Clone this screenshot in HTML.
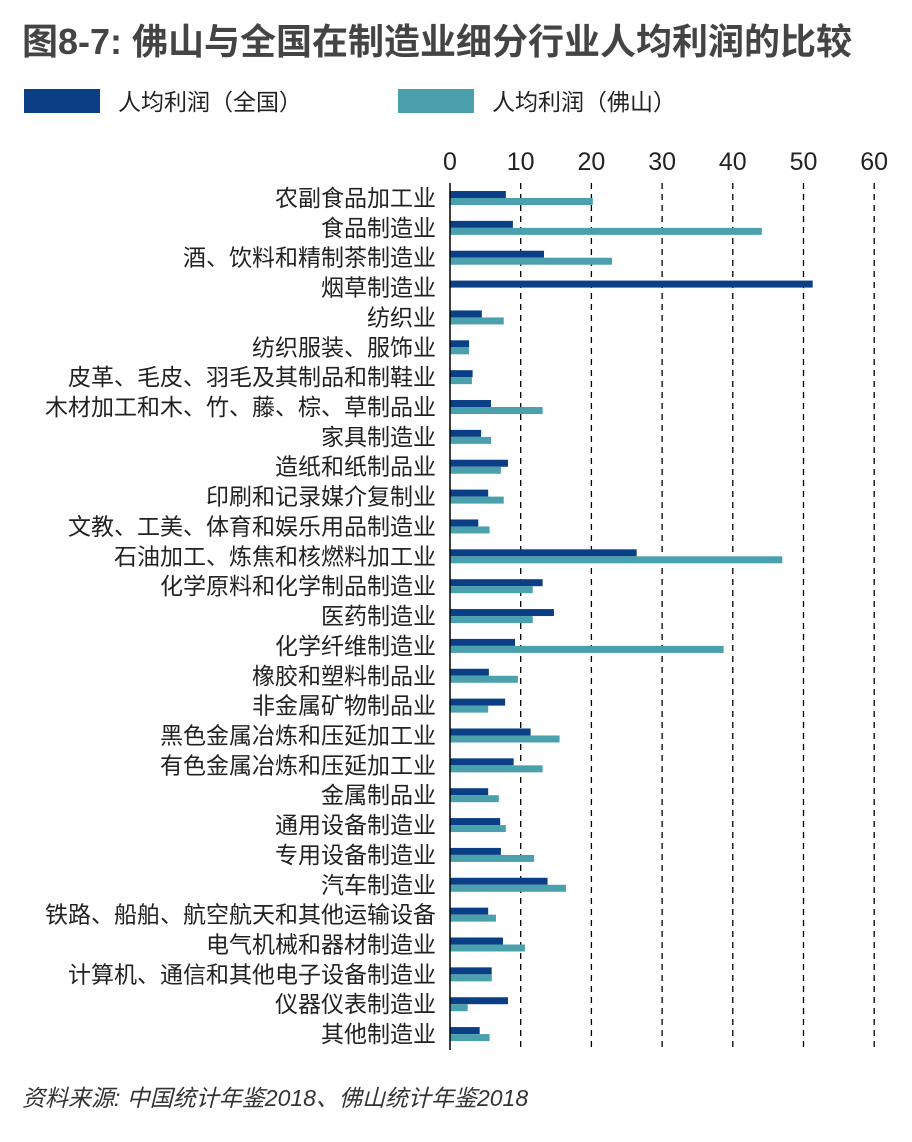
<!DOCTYPE html>
<html><head><meta charset="utf-8"><style>
body{margin:0;background:#fff;}
svg text{font-family:"Liberation Sans","Noto Sans CJK SC",sans-serif;}
</style></head><body>
<svg id="chart" width="912" height="1137" xmlns="http://www.w3.org/2000/svg">
<text x="22" y="54" font-size="36" font-weight="bold" fill="#444">图8-7: 佛山与全国在制造业细分行业人均利润的比较</text>
<rect x="24" y="89" width="76" height="24" fill="#0a3f86"/>
<text x="118" y="110" font-size="23" fill="#222">人均利润（全国）</text>
<rect x="398" y="89" width="76" height="24" fill="#4aa0ad"/>
<text x="492" y="110" font-size="23" fill="#222">人均利润（佛山）</text>
<g id="grid"></g><g id="bars"></g><g id="labels"></g>
<line x1="450" y1="183" x2="450" y2="1050" stroke="#000" stroke-width="1.5"/>
<text x="22" y="1106" font-size="23" font-style="italic" fill="#333">资料来源: 中国统计年鉴2018、佛山统计年鉴2018</text>
</svg>
<script>
const categories=["农副食品加工业","食品制造业","酒、饮料和精制茶制造业","烟草制造业","纺织业","纺织服装、服饰业","皮革、毛皮、羽毛及其制品和制鞋业","木材加工和木、竹、藤、棕、草制品业","家具制造业","造纸和纸制品业","印刷和记录媒介复制业","文教、工美、体育和娱乐用品制造业","石油加工、炼焦和核燃料加工业","化学原料和化学制品制造业","医药制造业","化学纤维制造业","橡胶和塑料制品业","非金属矿物制品业","黑色金属冶炼和压延加工业","有色金属冶炼和压延加工业","金属制品业","通用设备制造业","专用设备制造业","汽车制造业","铁路、船舶、航空航天和其他运输设备","电气机械和器材制造业","计算机、通信和其他电子设备制造业","仪器仪表制造业","其他制造业"];
const national=[7.9,8.9,13.3,51.3,4.5,2.7,3.2,5.8,4.4,8.2,5.4,4.0,26.4,13.1,14.7,9.2,5.5,7.8,11.4,9.0,5.4,7.1,7.2,13.8,5.4,7.5,5.9,8.2,4.2];
const foshan=[20.2,44.1,22.9,0,7.6,2.7,3.1,13.1,5.8,7.2,7.6,5.6,47.0,11.7,11.7,38.7,9.6,5.4,15.5,13.1,6.9,7.9,11.9,16.4,6.5,10.6,5.9,2.5,5.6];
const ticks=[0,10,20,30,40,50,60];
const NS="http://www.w3.org/2000/svg";
const x=v=>450+v*7.07;
const y=i=>198+i*29.86;
function mk(t,a,p){const e=document.createElementNS(NS,t);for(const k in a)e.setAttribute(k,a[k]);p.appendChild(e);return e;}
const grid=document.getElementById('grid'),bars=document.getElementById('bars'),labels=document.getElementById('labels');
ticks.forEach(t=>{
  const tx=mk('text',{x:x(t),y:170,'font-size':25,fill:'#222','text-anchor':'middle'},labels);
  tx.textContent=t;
  
  
  if(t>0){const l=mk('line',{x1:x(t),y1:183,x2:x(t),y2:1050,stroke:'#000','stroke-width':1.3,'stroke-dasharray':'6,5'},grid);
  
  }
});
categories.forEach((c,i)=>{
  const cy=y(i);
  const t=mk('text',{x:436,y:cy+8,'font-size':23,fill:'#222','text-anchor':'end'},labels);
  t.textContent=c;
  
  
  const b1=mk('rect',{x:450,y:cy-7,width:Math.max(0,x(national[i])-450),height:7,fill:'#0a3f86'},bars);
  
  
  const b2=mk('rect',{x:450,y:cy,width:Math.max(0,x(foshan[i])-450),height:7,fill:'#4aa0ad'},bars);
  
  
});
</script>
</body></html>
